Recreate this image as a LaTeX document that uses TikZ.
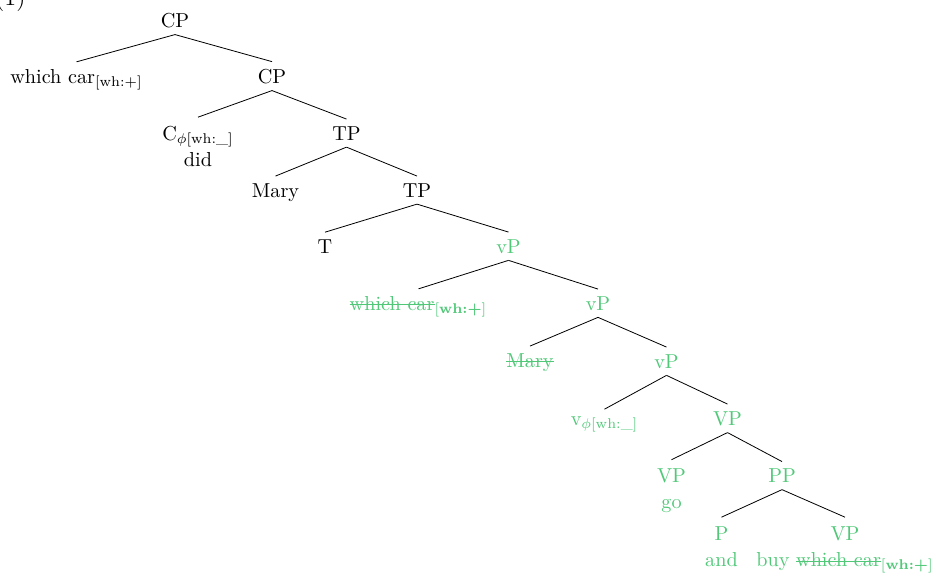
\documentclass[tikz,border=0pt]{standalone}
\usepackage{xcolor}
\definecolor{trgreen}{RGB}{80,200,120}
\newcommand\strk[1]{\leavevmode\setbox0\hbox{#1}\rlap{\rule[0.55ex]{\wd0}{0.45pt}}\box0}
\begin{document}
\begin{tikzpicture}[x=0.495pt,y=-0.495pt,
  lab/.style={anchor=base,inner sep=3.33pt},
  glab/.style={lab,text=trgreen},
  two/.style={inner xsep=0pt,inner ysep=2.7pt},
  br/.style={draw=black,line width=0.4pt}]
\useasboundingbox (0,0) rectangle (936,575);
\node[anchor=base east,inner sep=0pt,font=\large] (num) at (26,5) {(1)};
\node[lab] (cp1) at (175,27) {CP};
\node[lab] (wc1) at (76.5,83) {which car\textsubscript{[wh:+]}};
\node[lab] (cp2) at (272,83) {CP};
\node[lab,two] (c) at (198,140) {\begin{tabular}[t]{@{}c@{}}C\textsubscript{$\phi$[wh:\_]}\\[1pt]did\end{tabular}};
\node[lab] (tp1) at (346.5,140) {TP};
\node[lab] (mary1) at (275.5,197) {Mary};
\node[lab] (tp2) at (417,197) {TP};
\node[lab] (t) at (325,253) {T};
\node[glab] (vp1) at (508.5,253) {vP};
\node[glab] (wc2) at (418.5,310) {\color{trgreen}\strk{which car}\textsubscript{[\textbf{wh:+}]}};
\node[glab] (vp2) at (598,310) {vP};
\node[glab] (mary2) at (530,367) {\color{trgreen}\strk{Mary}};
\node[glab] (vp3) at (666.5,368) {vP};
\node[glab] (v) at (604.5,425) {v\textsubscript{$\phi$[wh:\_]}};
\node[glab] (VP1) at (727.5,425) {VP};
\node[glab,two] (go) at (671.5,482.5) {\begin{tabular}[t]{@{}c@{}}VP\\[1pt]go\end{tabular}};
\node[glab] (pp) at (782,482.5) {PP};
\node[glab,two] (p) at (721.5,540) {\begin{tabular}[t]{@{}c@{}}P\\[1pt]and\end{tabular}};
\node[glab,two] (VP2) at (845,540) {\color{trgreen}\begin{tabular}[t]{@{}c@{}}VP\\[1pt]buy \strk{which car}\textsubscript{[\textbf{wh:+}]}\end{tabular}};
\foreach \a/\b in {cp1/wc1,cp1/cp2,cp2/c,cp2/tp1,tp1/mary1,tp1/tp2,tp2/t,tp2/vp1,
  vp1/wc2,vp1/vp2,vp2/mary2,vp2/vp3,vp3/v,vp3/VP1,VP1/go,VP1/pp,pp/p,pp/VP2}
  \draw[br] (\a.south) -- (\b.north);
\end{tikzpicture}
\end{document}
